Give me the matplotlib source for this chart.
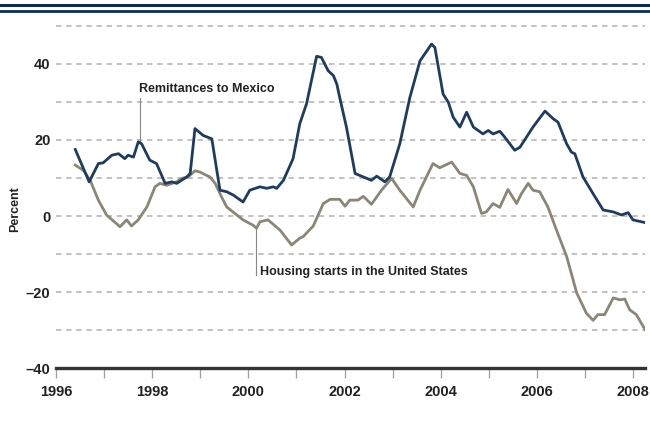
import matplotlib
matplotlib.use("Agg")
import matplotlib.pyplot as plt
from matplotlib.lines import Line2D

plt.rcParams['font.family'] = ['Liberation Sans', 'DejaVu Sans']

# remittances to Mexico, yearly % change
remit_years = [1996.40, 1996.69, 1996.88, 1996.98, 1997.16, 1997.30, 1997.43, 1997.50, 1997.61, 1997.71,
               1997.78, 1997.95, 1998.09, 1998.27, 1998.41, 1998.51, 1998.72, 1998.79, 1998.89, 1999.06,
               1999.24, 1999.41, 1999.55, 1999.69, 1999.89, 2000.03, 2000.24, 2000.38, 2000.52, 2000.59,
               2000.73, 2000.93, 2001.07, 2001.21, 2001.42, 2001.52, 2001.66, 2001.77, 2001.84, 2001.90,
               2002.04, 2002.22, 2002.39, 2002.56, 2002.67, 2002.84, 2002.94, 2003.15, 2003.36, 2003.57,
               2003.81, 2003.88, 2004.05, 2004.16, 2004.26, 2004.40, 2004.54, 2004.68, 2004.88, 2004.99,
               2005.09, 2005.23, 2005.33, 2005.54, 2005.65, 2005.92, 2006.17, 2006.34, 2006.44, 2006.62,
               2006.72, 2006.79, 2006.96, 2007.17, 2007.38, 2007.59, 2007.76, 2007.90, 2008.00, 2008.25]
remit_vals = [17.5, 9.0, 13.8, 14.0, 16.0, 16.4, 15.1, 16.0, 15.5, 19.5,
              19.0, 14.7, 13.8, 8.6, 9.0, 8.6, 10.3, 11.2, 23.0, 21.2,
              20.3, 6.8, 6.4, 5.5, 3.7, 6.8, 7.7, 7.3, 7.7, 7.3,
              9.4, 15.1, 24.3, 29.5, 42.0, 41.7, 38.2, 36.9, 34.7, 31.2,
              23.4, 11.2, 10.3, 9.4, 10.5, 9.0, 10.3, 19.0, 31.2, 40.8,
              45.2, 44.3, 32.1, 29.9, 26.0, 23.4, 27.3, 23.4, 21.6, 22.5,
              21.6, 22.3, 20.8, 17.3, 18.1, 23.4, 27.6, 25.6, 24.7, 19.0,
              16.8, 16.4, 10.3, 5.9, 1.6, 1.1, 0.3, 0.9, -1.0, -1.7]

# housing starts in the US, yearly % change
house_years = [1996.40, 1996.57, 1996.71, 1996.88, 1997.05, 1997.33, 1997.47, 1997.57, 1997.71, 1997.89,
               1998.06, 1998.16, 1998.30, 1998.51, 1998.61, 1998.75, 1998.89, 1998.99, 1999.13, 1999.20,
               1999.31, 1999.44, 1999.55, 1999.76, 1999.89, 2000.10, 2000.17, 2000.24, 2000.41, 2000.66,
               2000.90, 2001.07, 2001.14, 2001.35, 2001.56, 2001.70, 2001.90, 2002.01, 2002.11, 2002.28,
               2002.39, 2002.56, 2002.77, 2002.98, 2003.15, 2003.43, 2003.57, 2003.84, 2003.98, 2004.23,
               2004.40, 2004.54, 2004.68, 2004.85, 2004.95, 2005.09, 2005.23, 2005.40, 2005.58, 2005.68,
               2005.82, 2005.92, 2006.06, 2006.23, 2006.41, 2006.62, 2006.83, 2007.03, 2007.17, 2007.27,
               2007.41, 2007.59, 2007.73, 2007.83, 2007.93, 2008.07, 2008.25]
house_vals = [13.4, 12.0, 9.4, 4.2, 0.3, -2.8, -1.0, -2.6, -1.0, 2.4,
              7.7, 8.6, 8.1, 9.0, 9.9, 10.3, 11.9, 11.6, 10.7, 10.3,
              8.6, 5.1, 2.4, 0.3, -1.0, -2.4, -3.2, -1.5, -1.0, -3.7,
              -7.6, -5.8, -5.4, -2.6, 3.3, 4.4, 4.4, 2.6, 4.2, 4.2,
              5.2, 3.1, 6.8, 9.9, 6.8, 2.4, 6.8, 13.8, 12.7, 14.2,
              11.2, 10.7, 7.7, 0.7, 1.1, 3.3, 2.3, 7.0, 3.3, 5.9,
              8.6, 6.8, 6.4, 2.4, -3.7, -10.6, -20.2, -25.5, -27.4, -25.9,
              -25.9, -21.5, -22.0, -21.8, -24.6, -25.9, -29.8]

grid_levels = [-30, -20, -10, 0, 10, 20, 30, 40, 50]
ytick_vals = [-40, -20, 0, 20, 40]
ytick_labels = ['\u201340', '\u201320', '0', '20', '40']
year_ticks = list(range(1996, 2009))
year_labels = [str(y) if y % 2 == 0 else '' for y in year_ticks]

blue = '#1d3c60'
taupe = '#8b8676'

fig = plt.figure(figsize=(6.5, 4.24), dpi=100)
ax = fig.add_axes([0.0862, 0.1314, 0.9061, 0.8166])

for lv in grid_levels:
    ax.axhline(lv, color='#bdbdbd', lw=1.3, ls=(0, (3, 2.6)), zorder=1)

ax.plot(house_years, house_vals, color=taupe, lw=2.0, zorder=3)
ax.plot(remit_years, remit_vals, color=blue, lw=2.0, zorder=4)

ax.set_xlim(1996, 2008.25)
ax.set_ylim(-40, 51)

ax.set_yticks(ytick_vals)
ax.set_yticklabels(ytick_labels, fontsize=10.5, fontweight='bold', color='#222222')
ax.tick_params(axis='y', length=0, pad=4)
ax.set_xticks(year_ticks)
ax.set_xticklabels(year_labels, fontsize=10.5, fontweight='bold', color='#222222')
ax.tick_params(axis='x', length=7, width=0.9, color='#a0a0a0', pad=5)

for s in ['top', 'right', 'left']:
    ax.spines[s].set_visible(False)
ax.spines['bottom'].set_linewidth(2.4)
ax.spines['bottom'].set_color('#333333')

ax.set_ylabel('Percent', fontsize=9, fontweight='bold', color='#222222', labelpad=12)
ax.yaxis.set_label_coords(-0.06, 0.46)

# labels with leader lines
ax.plot([1997.75, 1997.75], [31.0, 19.8], color='#888888', lw=0.8, zorder=2)
ax.text(1997.72, 33.3, 'Remittances to Mexico', fontsize=9, fontweight='bold',
        color='#222222', va='center', ha='left')
ax.plot([2000.15, 2000.15], [-2.6, -15.6], color='#888888', lw=0.8, zorder=2)
ax.text(2000.24, -14.7, 'Housing starts in the United States', fontsize=9,
        fontweight='bold', color='#222222', va='center', ha='left')

# header rules
fig.add_artist(Line2D([0, 1], [1 - 5 / 424, 1 - 5 / 424], color='#0e2c50', lw=2.2))
fig.add_artist(Line2D([0, 1], [1 - 10.5 / 424, 1 - 10.5 / 424], color='#0e2c50', lw=2.0))

fig.savefig('out.png', dpi=100)
